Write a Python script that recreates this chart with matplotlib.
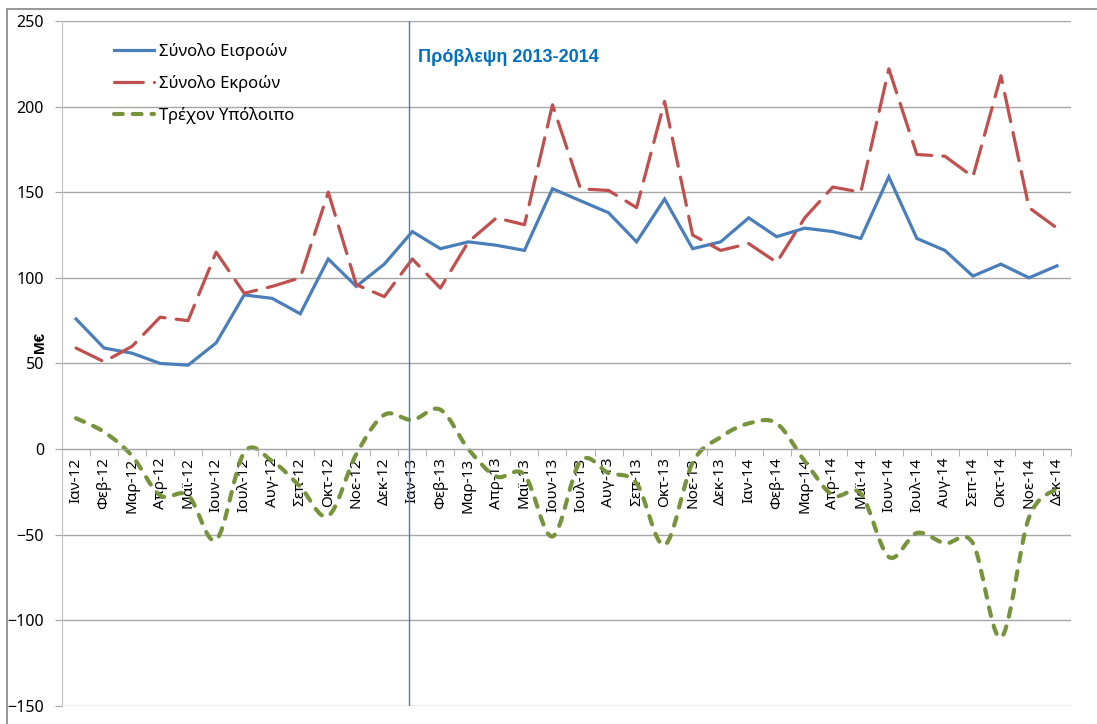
import matplotlib
matplotlib.use("Agg")
import matplotlib.pyplot as plt
import numpy as np
from matplotlib.lines import Line2D
from matplotlib.path import Path
from matplotlib.patches import PathPatch, Rectangle

plt.rcParams["font.family"] = ["Noto Sans", "DejaVu Sans"]
BOLD_FONT = ["Liberation Sans", "DejaVu Sans"]

months = ["Ιαν", "Φεβ", "Μαρ", "Απρ", "Μαϊ", "Ιουν",
          "Ιουλ", "Αυγ", "Σεπ", "Οκτ", "Νοε", "Δεκ"]
years = ["12", "13", "14"]
labels = [f"{m}-{y}" for y in years for m in months]

inflows = [76, 59, 56, 50, 49, 62, 90, 88, 79, 111, 95, 108,
           127, 117, 121, 119, 116, 152, 145, 138, 121, 146, 117, 121,
           135, 124, 129, 127, 123, 159, 123, 116, 101, 108, 100, 107]
outflows = [59, 51, 60, 77, 75, 115, 91, 95, 100, 150, 96, 89,
            111, 94, 121, 135, 131, 201, 152, 151, 141, 203, 125, 116,
            120, 109, 135, 153, 150, 222, 172, 171, 159, 218, 141, 129]
balance = [18, 10, -4, -27, -27, -53, -2, -7, -22, -39, -3, 20,
           17, 23, 0, -16, -15, -51, -7, -14, -20, -56, -8, 7,
           15, 15, -7, -27, -26, -63, -49, -55, -55, -110, -40, -23]

forecast_start = 11.88

blue = "#4A7EBB"
red = "#C0504D"
green = "#77933C"
grid_col = "#A6A6A6"


def smooth_path(xs, ys):
    # Excel-style smoothed line: cubic Bezier through every point
    pts = np.column_stack([xs, ys]).astype(float)
    verts = [pts[0]]
    codes = [Path.MOVETO]
    n = len(pts)
    for i in range(n - 1):
        p0 = pts[i - 1] if i > 0 else pts[i]
        p1 = pts[i]
        p2 = pts[i + 1]
        p3 = pts[i + 2] if i + 2 < n else pts[i + 1]
        c1 = p1 + (p2 - p0) / 6.0
        c2 = p2 - (p3 - p1) / 6.0
        verts += [c1, c2, p2]
        codes += [Path.CURVE4] * 3
    return Path(verts, codes)


x = np.arange(len(labels))

fig = plt.figure(figsize=(10.97, 7.24), dpi=100)
ax = fig.add_axes([0.0565, 0.0249, 0.9198, 0.9462])

ax.plot(x, inflows, color=blue, lw=2.3, solid_joinstyle="miter")
ax.plot(x, outflows, color=red, lw=2.3, dashes=(9, 3.5), dash_capstyle="round")
curve = PathPatch(smooth_path(x, balance), facecolor="none", edgecolor=green,
                  lw=3.0, linestyle=(0, (2.1, 2.4)), capstyle="round")
ax.add_patch(curve)

ax.axvline(forecast_start, color=blue, lw=1.0)
ax.text(12.2, 229, "Πρόβλεψη 2013-2014", color="#0070C0", fontsize=13,
        fontweight="bold", family=BOLD_FONT, va="center", ha="left")

ax.set_xlim(-0.5, len(labels) - 0.5)
ax.set_ylim(-150, 250)
ax.set_yticks(np.arange(-150, 251, 50))
ax.yaxis.grid(True, color=grid_col, lw=1)
ax.set_axisbelow(True)
ax.tick_params(axis="y", length=5, color=grid_col, labelsize=11.5, pad=8)

ax.spines["top"].set_visible(False)
ax.spines["right"].set_visible(False)
ax.spines["left"].set_color("#BFBFBF")
ax.spines["bottom"].set_position(("data", 0))
ax.spines["bottom"].set_color(grid_col)

ax.set_xticks(x)
ax.set_xticklabels(labels, rotation=90, fontsize=11)
ax.set_xticks(np.arange(-0.5, len(labels), 1.0), minor=True)
ax.tick_params(axis="x", which="major", length=0, pad=6)
ax.tick_params(axis="x", which="minor", length=5, color=grid_col)

ax.set_ylabel("M€", fontsize=11, fontweight="bold", family=BOLD_FONT, va="center")
ax.yaxis.set_label_coords(-0.022, 0.53)

handles = [
    Line2D([], [], color=blue, lw=2.3),
    Line2D([], [], color=red, lw=2.3, dashes=(9, 3.5), dash_capstyle="round"),
    Line2D([], [], color=green, lw=3.0, dashes=(2.1, 2.4), dash_capstyle="round"),
]
names = ["Σύνολο Εισροών", "Σύνολο Εκροών", "Τρέχον Υπόλοιπο"]
ax.legend(handles, names, loc="upper left", bbox_to_anchor=(0.052, 0.968),
          frameon=False, fontsize=12, handlelength=2.4, handletextpad=0.3,
          labelspacing=0.9, borderpad=0, borderaxespad=0)

fig.patches.append(Rectangle((7 / 1097, -0.1), 1.2, 1.1 - 9 / 724,
                             transform=fig.transFigure, fill=False,
                             edgecolor="#868686", lw=1.2))

fig.savefig("out.png", dpi=100)
